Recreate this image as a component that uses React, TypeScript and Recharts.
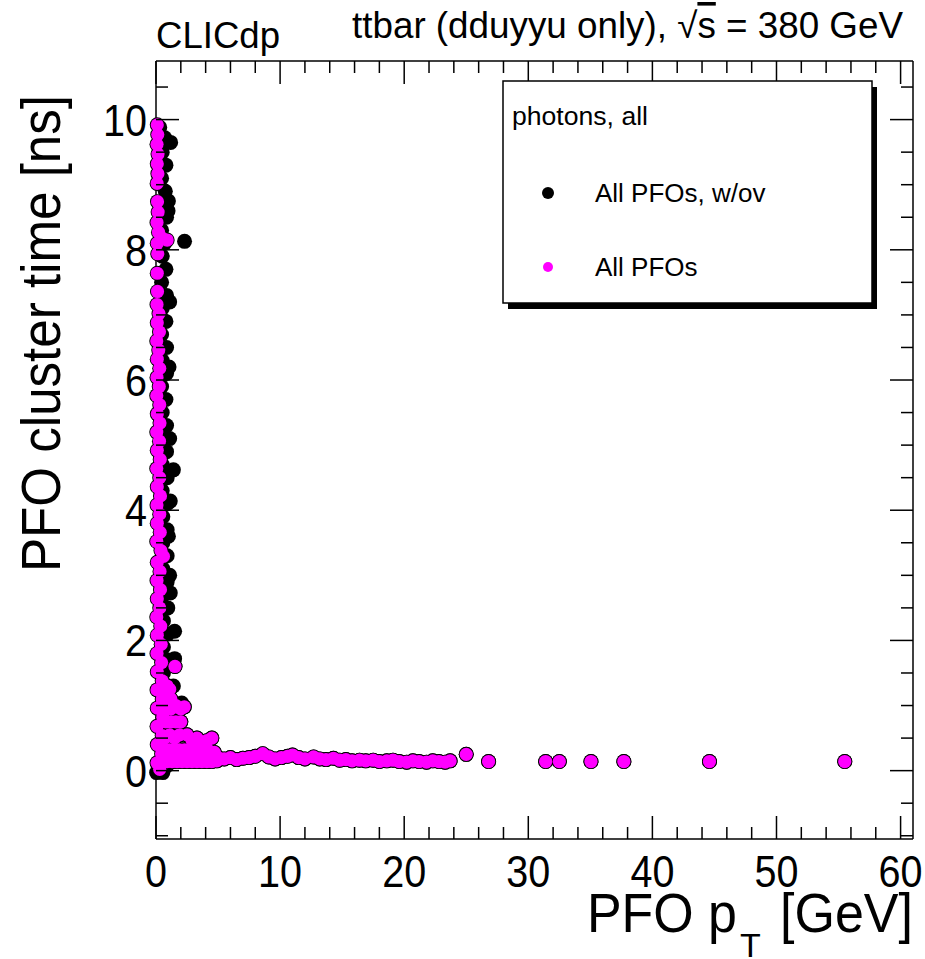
import { Scatter, ScatterChart, XAxis, YAxis } from 'recharts';

// x tick positions (GeV) and which of them carry labels
const xTicks = [0, 2, 4, 6, 8, 10, 12, 14, 16, 18, 20, 22, 24, 26, 28, 30, 32, 34, 36, 38, 40, 42, 44, 46, 48, 50, 52, 54, 56, 58, 60];
const xLabels = [0, 10, 20, 30, 40, 50, 60];
// y tick positions (ns) and labelled ones
const yTicks = [-1, -0.5, 0, 0.5, 1, 1.5, 2, 2.5, 3, 3.5, 4, 4.5, 5, 5.5, 6, 6.5, 7, 7.5, 8, 8.5, 9, 9.5, 10, 10.5];
const yLabels = [0, 2, 4, 6, 8, 10];

const seriesNames = ['All PFOs, w/ov', 'All PFOs'];
const seriesColors = ['#000000', '#ff00ff'];

// [pT, time]
const blackSpike: [number, number][] = [
  [0.3, 9.88], [0.7, 9.72], [0.5, 9.5], [0.8, 9.3], [0.45, 9.1], [0.75, 8.9], [0.5, 8.7], [0.85, 8.5],
  [0.45, 8.3], [0.7, 8.1], [0.5, 7.9], [0.8, 7.7], [0.45, 7.5], [0.85, 7.3], [0.5, 7.1], [0.8, 6.9],
  [0.45, 6.7], [0.85, 6.5], [0.5, 6.3], [0.85, 6.1], [0.45, 5.9], [0.8, 5.7], [0.5, 5.5], [0.85, 5.3],
  [0.5, 5.1], [0.85, 4.9], [0.5, 4.7], [0.9, 4.5], [0.5, 4.3], [0.9, 4.1], [0.55, 3.9], [0.9, 3.7],
  [0.55, 3.5], [0.9, 3.3], [0.55, 3.1], [0.9, 2.9], [0.6, 2.7], [0.95, 2.5], [0.6, 2.3], [0.95, 2.1],
  [0.6, 1.9], [1.0, 1.7], [0.6, 1.5], [1.0, 1.3], [0.7, 1.1], [1.0, 0.9], [0.7, 0.7], [1.0, 0.5],
  [0.6, 0.3], [0.9, 0.08], [0.05, -0.03], [0.55, -0.03],
  [1.18, 9.65], [1.0, 8.75], [0.97, 8.6], [2.3, 8.13], [1.1, 7.2], [1.05, 6.2], [1.1, 5.1], [1.4, 4.62],
  [1.15, 4.14], [1.0, 3.6], [1.1, 3.0], [1.15, 2.73], [1.5, 2.14], [1.5, 1.72], [1.4, 1.3], [2.07, 1.04],
];

const pinkSpike: [number, number][] = [
  [0.1, 9.92], [0.14, 9.77], [0.08, 9.62], [0.16, 9.47], [0.1, 9.32], [0.15, 9.17], [0.09, 9.02],
  [0.12, 8.74], [0.17, 8.58], [0.08, 8.42], [0.2, 8.27], [0.9, 8.15], [0.5, 8.18], [0.1, 8.1], [0.14, 7.94],
  [0.1, 7.64], [0.12, 7.36],
  [0.08, 7.16], [0.24, 7.02], [0.1, 6.88], [0.28, 6.74], [0.06, 6.6], [0.22, 6.46], [0.1, 6.32], [0.3, 6.18],
  [0.08, 6.04], [0.26, 5.9], [0.06, 5.76], [0.3, 5.62], [0.1, 5.48], [0.32, 5.34], [0.06, 5.2], [0.28, 5.06],
  [0.1, 4.92], [0.34, 4.78], [0.06, 4.64], [0.3, 4.5], [0.1, 4.36], [0.36, 4.22], [0.08, 4.08], [0.3, 3.94],
  [0.1, 3.8], [0.34, 3.66], [0.06, 3.52], [0.4, 3.38], [0.6, 3.29], [0.1, 3.2], [0.32, 3.06], [0.08, 2.92],
  [0.36, 2.78], [0.1, 2.64], [0.3, 2.5], [0.06, 2.36], [0.38, 2.22], [0.1, 2.08], [0.42, 1.94], [0.08, 1.8],
  [0.45, 1.66], [0.1, 1.52], [0.5, 1.38], [0.08, 1.24], [0.5, 1.1], [0.1, 0.96], [0.55, 0.82], [0.08, 0.68],
  [0.5, 0.54], [0.1, 0.4], [0.45, 0.26], [0.08, 0.12], [0.3, 0.02],
];

const lowTime: [number, number][] = [
  [1.53, 1.6], [2.28, 0.98],
  [0.9, 1.3], [1.1, 1.25], [0.8, 1.15], [1.2, 1.1], [0.8, 0.95], [1.2, 0.95], [1.6, 1.0], [2.0, 0.95],
  [0.8, 0.75], [1.2, 0.75], [1.6, 0.75], [2.0, 0.75], [0.7, 0.5], [1.1, 0.55], [1.5, 0.5], [1.9, 0.55],
  [2.5, 0.55], [2.9, 0.47], [3.3, 0.5], [3.7, 0.44], [4.1, 0.46], [4.5, 0.5],
  [0.7, 0.32], [1.1, 0.32], [1.5, 0.32], [1.9, 0.32], [2.3, 0.32], [2.7, 0.32], [3.1, 0.32], [3.5, 0.3],
  [3.9, 0.3], [4.3, 0.3], [4.7, 0.28],
  [0.5, 0.14], [0.9, 0.14], [1.3, 0.14], [1.7, 0.14], [2.1, 0.14], [2.5, 0.14], [2.9, 0.14], [3.3, 0.14],
  [3.7, 0.14], [4.1, 0.14], [4.5, 0.14], [4.9, 0.15],
  [5.0, 0.2], [5.5, 0.18], [6.0, 0.2], [6.5, 0.17], [7.0, 0.19], [7.5, 0.2], [8.0, 0.22], [8.6, 0.26],
  [9.1, 0.21], [9.6, 0.18], [10.1, 0.2], [10.6, 0.22], [11.0, 0.24], [11.5, 0.2], [12.0, 0.18], [12.7, 0.21],
  [13.2, 0.18], [13.7, 0.17], [14.3, 0.19], [14.8, 0.16], [15.3, 0.17], [15.8, 0.15], [16.4, 0.16], [16.9, 0.15],
  [17.5, 0.16], [18.0, 0.14], [18.6, 0.15], [19.1, 0.16], [19.6, 0.14], [20.2, 0.13], [20.7, 0.15], [21.2, 0.14],
  [21.8, 0.13], [22.3, 0.15], [22.8, 0.14], [23.3, 0.13], [23.7, 0.15], [25.0, 0.25], [26.8, 0.14], [31.4, 0.14],
  [32.5, 0.14], [35.05, 0.14], [37.7, 0.14], [44.6, 0.14], [55.5, 0.14],
];

const toPoints = (rows: [number, number][]) => rows.map(([x, y]) => ({ x, y }));
const withOverlay = toPoints([...blackSpike, ...lowTime]);
const noOverlay = toPoints([...pinkSpike, ...lowTime]);

const FONT = '"Liberation Sans", Arial, sans-serif';
const INK = '#000';
// plot frame edges, used to mirror the ticks on the top and right sides
const PLOT_TOP = 61;
const PLOT_RIGHT = 913;

const dot = (fill: string, r: number) => (props: any) => (
  <circle cx={props.cx} cy={props.cy} r={r} fill={fill} stroke="none" />
);

const BottomTick = ({ x, y, payload }: any) => {
  const len = xLabels.includes(payload.value) ? 23 : 12;
  return (
    <g>
      <line x1={x} y1={y} x2={x} y2={y - len} stroke={INK} strokeWidth={1.5} />
      <line x1={x} y1={PLOT_TOP} x2={x} y2={PLOT_TOP + len} stroke={INK} strokeWidth={1.5} />
      {len > 12 && (
        <text x={x} y={y + 48} textAnchor="middle" fontSize={44} fontFamily={FONT} fill={INK}
          textLength={String(payload.value).length * 22} lengthAdjust="spacingAndGlyphs">
          {payload.value}
        </text>
      )}
    </g>
  );
};

const LeftTick = ({ x, y, payload }: any) => {
  const len = yLabels.includes(payload.value) ? 23 : 12;
  return (
    <g>
      <line x1={x} y1={y} x2={x + len} y2={y} stroke={INK} strokeWidth={1.5} />
      <line x1={PLOT_RIGHT} y1={y} x2={PLOT_RIGHT - len} y2={y} stroke={INK} strokeWidth={1.5} />
      {len > 12 && (
        <text x={x - 9} y={y + 16} textAnchor="end" fontSize={44} fontFamily={FONT} fill={INK}
          textLength={String(payload.value).length * 22} lengthAdjust="spacingAndGlyphs">
          {payload.value}
        </text>
      )}
    </g>
  );
};

const axisLine = { stroke: INK, strokeWidth: 1.5 };

export default function App() {
  return (
    <div style={{ position: 'absolute', left: 0, top: 0, width: 925, height: 959, background: '#fff', fontFamily: FONT }}>
      <ScatterChart width={925} height={959} margin={{ top: 51, right: 2, bottom: 80, left: 106 }}>
        <XAxis xAxisId="b" type="number" dataKey="x" domain={[0, 61]} ticks={xTicks} interval={0}
          orientation="bottom" height={40} axisLine={axisLine} tickLine={false} tickSize={0} tickMargin={0}
          tick={(p: any) => <BottomTick {...p} />} />
        <XAxis xAxisId="t" type="number" dataKey="x" domain={[0, 61]} orientation="top" height={10}
          axisLine={axisLine} tickLine={false} tick={false} />
        <YAxis yAxisId="l" type="number" dataKey="y" domain={[-1.05, 10.9]} ticks={yTicks} interval={0}
          orientation="left" width={50} axisLine={axisLine} tickLine={false} tickSize={0} tickMargin={0}
          tick={(p: any) => <LeftTick {...p} />} />
        <YAxis yAxisId="r" type="number" dataKey="y" domain={[-1.05, 10.9]} orientation="right" width={10}
          axisLine={axisLine} tickLine={false} tick={false} />
        {/* w/ov sample: plain black dots */}
        <Scatter name={seriesNames[0]} data={withOverlay} xAxisId="b" yAxisId="l"
          shape={dot(seriesColors[0], 7.5)} isAnimationActive={false} />
        {/* no-overlay sample: dark rim pass, then the magenta fill on top */}
        <Scatter name={`${seriesNames[1]} rim`} data={noOverlay} xAxisId="b" yAxisId="l" legendType="none"
          shape={dot(INK, 7.5)} isAnimationActive={false} />
        <Scatter name={seriesNames[1]} data={noOverlay} xAxisId="b" yAxisId="l"
          shape={dot(seriesColors[1], 6.6)} isAnimationActive={false} />
      </ScatterChart>

      <svg width={925} height={959} style={{ position: 'absolute', left: 0, top: 0, pointerEvents: 'none' }}
        fontFamily={FONT}>
        <text x={156} y={48} fontSize={36} textLength={124} lengthAdjust="spacingAndGlyphs">CLICdp</text>
        <text x={352} y={38} fontSize={36} textLength={551} lengthAdjust="spacingAndGlyphs">
          ttbar (dduyyu only), √<tspan textDecoration="overline">s</tspan> = 380 GeV
        </text>

        <text transform="translate(60,572) rotate(-90)" fontSize={56} textLength={477} lengthAdjust="spacingAndGlyphs">
          PFO cluster time [ns]
        </text>
        <text x={587} y={932} fontSize={56} textLength={150} lengthAdjust="spacingAndGlyphs">PFO p</text>
        <text x={740} y={957} fontSize={34}>T</text>
        <text x={780} y={932} fontSize={56} textLength={133} lengthAdjust="spacingAndGlyphs">[GeV]</text>

        <rect x={508} y={87} width={369} height={222} fill={INK} />
        <rect x={503} y={81} width={369} height={222} fill="#fff" stroke={INK} strokeWidth={1.5} />
        <text x={512} y={125} fontSize={25} textLength={136} lengthAdjust="spacingAndGlyphs">photons, all</text>
        {seriesNames.map((name, i) => (
          <g key={name}>
            <circle cx={548} cy={193 + i * 74} r={i === 0 ? 6 : 5} fill={seriesColors[i]} />
            <text x={595} y={202 + i * 74} fontSize={26}>{name}</text>
          </g>
        ))}
      </svg>
    </div>
  );
}
